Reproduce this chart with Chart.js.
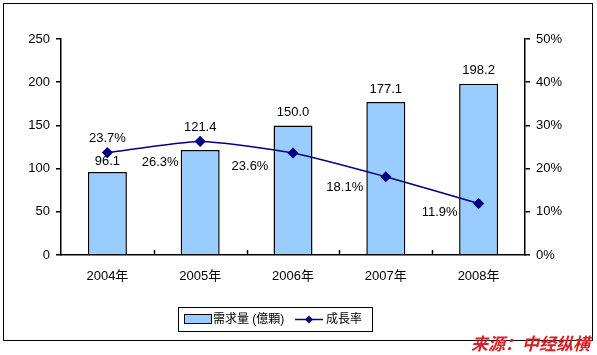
<!DOCTYPE html>
<html><head><meta charset="utf-8">
<script src="https://cdn.jsdelivr.net/npm/chart.js@4/dist/chart.umd.min.js"></script>
<style>html,body{margin:0;padding:0;background:#fff;overflow:hidden}canvas{display:block}</style>
</head><body>
<canvas id="c" width="597" height="355"></canvas>
<script>
// ---- data ----
const categories = ['2004年','2005年','2006年','2007年','2008年'];
const demand = [96.1, 121.4, 150.0, 177.1, 198.2];
const growth = [23.7, 26.3, 23.6, 18.1, 11.9];
const demandLabels = ['96.1','121.4','150.0','177.1','198.2'];
const growthLabels = ['23.7%','26.3%','23.6%','18.1%','11.9%'];
const seriesNames = ['需求量 (億顆)','成長率'];
const sourceText = '来源：中经纵横';

// ---- label placement (pixel offsets from the drawn marks) ----
const demandLabelRise = [11, 23, 13, 13, 13];
const growthLabelOffset = [[0,-14],[-40,21],[-43,13],[-41,11],[-39,9]];

const FONT = '"Liberation Sans", Arial, "Noto Sans CJK SC", sans-serif';
const BAR_FILL = '#99CCFF', LINE_COL = '#000080';

const deco = {
  id: 'deco',
  beforeDraw(chart) {
    const c = chart.ctx;
    c.save();
    c.fillStyle = '#fff';
    c.fillRect(0, 0, chart.width, chart.height);
    c.strokeStyle = '#000'; c.lineWidth = 1;
    c.strokeRect(3.5, 3.5, 589, 337);
    c.restore();
  },
  afterDatasetsDraw(chart) {
    const c = chart.ctx;
    c.save();
    c.fillStyle = '#000';
    c.font = '13px ' + FONT;
    c.textAlign = 'center'; c.textBaseline = 'middle';
    chart.getDatasetMeta(0).data.forEach((el, i) => {
      c.fillText(demandLabels[i], el.x, el.y - demandLabelRise[i]);
    });
    chart.getDatasetMeta(1).data.forEach((el, i) => {
      c.fillText(growthLabels[i], el.x + growthLabelOffset[i][0], el.y + growthLabelOffset[i][1]);
    });
    // inward tick marks on category axis
    const xs = chart.scales.x;
    c.strokeStyle = '#000'; c.lineWidth = 1.5;
    const n = categories.length;
    for (let i = 1; i < n; i++) {
      const x = Math.round(xs.left + i * xs.width / n) + 0.5;
      c.beginPath(); c.moveTo(x, xs.top); c.lineTo(x, xs.top - 5); c.stroke();
    }
    c.restore();
  },
  afterDraw(chart) {
    const c = chart.ctx;
    c.save();
    // legend
    c.strokeStyle = '#000'; c.lineWidth = 1;
    c.strokeRect(178.5, 307.5, 194, 24);
    c.fillStyle = BAR_FILL;
    c.fillRect(184.5, 314.5, 27, 9);
    c.strokeRect(184.5, 314.5, 27, 9);
    c.fillStyle = '#000';
    c.font = '12px ' + FONT;
    c.textAlign = 'left'; c.textBaseline = 'middle';
    c.fillText(seriesNames[0], 213, 320);
    c.strokeStyle = LINE_COL; c.lineWidth = 1.5;
    c.beginPath(); c.moveTo(295, 319.5); c.lineTo(323, 319.5); c.stroke();
    c.fillStyle = LINE_COL;
    c.beginPath(); c.moveTo(309, 315.5); c.lineTo(313, 319.5); c.lineTo(309, 323.5); c.lineTo(305, 319.5); c.closePath(); c.fill();
    c.fillStyle = '#000';
    c.fillText(seriesNames[1], 326, 320);
    // source
    c.fillStyle = '#d42128';
    c.font = 'italic bold 17px "Noto Sans CJK SC", sans-serif';
    c.textAlign = 'right'; c.textBaseline = 'middle';
    c.fillText(sourceText, 590, 344);
    c.restore();
  }
};

new Chart(document.getElementById('c'), {
  data: {
    labels: categories,
    datasets: [
      { type: 'bar', label: seriesNames[0], data: demand, yAxisID: 'y',
        backgroundColor: BAR_FILL, borderColor: '#000', borderWidth: 1.5,
        categoryPercentage: 1, barPercentage: 0.42, order: 1 },
      { type: 'line', label: seriesNames[1], data: growth, yAxisID: 'y1',
        borderColor: LINE_COL, backgroundColor: LINE_COL, borderWidth: 1.5,
        pointStyle: 'rectRot', pointRadius: 4.5, tension: 0.2, order: 0 }
    ]
  },
  options: {
    responsive: false, animation: false, devicePixelRatio: 1,
    layout: { padding: { top: 39, left: 0, right: 0, bottom: 0 } },
    plugins: { legend: { display: false }, tooltip: { enabled: false } },
    scales: {
      x: {
        offset: true,
        grid: { display: false, drawTicks: false },
        border: { display: true, color: '#000', width: 1.5 },
        ticks: { color: '#000', font: { size: 13, family: FONT }, padding: 14, maxRotation: 0 },
        afterFit(s) { s.height = 100; }
      },
      y: {
        position: 'left', min: 0, max: 250,
        ticks: { stepSize: 50, color: '#000', font: { size: 13, family: FONT }, padding: 6 },
        grid: { drawOnChartArea: false, drawTicks: true, tickLength: 5, color: '#000', lineWidth: 1.5 },
        border: { display: true, color: '#000', width: 1.5 },
        afterFit(s) { s.width = 61; }
      },
      y1: {
        position: 'right', min: 0, max: 50,
        ticks: { stepSize: 10, color: '#000', font: { size: 13, family: FONT }, padding: 6,
                 callback: v => v + '%' },
        grid: { drawOnChartArea: false, drawTicks: true, tickLength: 5, color: '#000', lineWidth: 1.5 },
        border: { display: true, color: '#000', width: 1.5 },
        afterFit(s) { s.width = 72; }
      }
    }
  },
  plugins: [deco]
});
</script>
</body></html>
